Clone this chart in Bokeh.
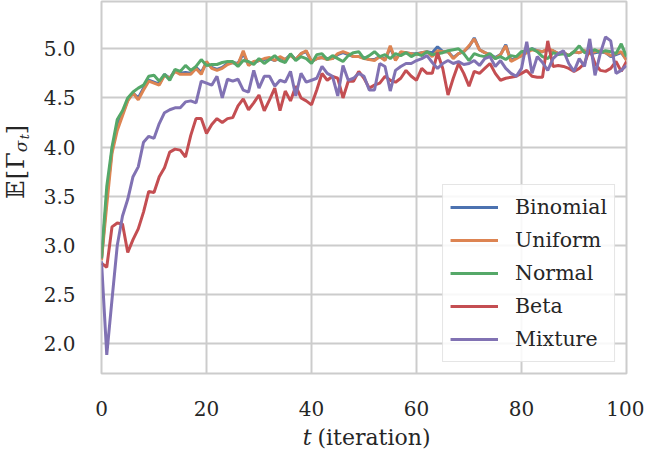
import math
from bokeh.plotting import figure
from bokeh.layouts import row, column
from bokeh.models import Legend, LegendItem, Range1d, FixedTicker, CustomJSTickFormatter
from bokeh.core.properties import value
from bokeh.embed import file_html
from bokeh.resources import INLINE

t = list(range(101))

binomial = [2.86, 3.50, 3.97, 4.22, 4.34, 4.48, 4.55, 4.50, 4.60, 4.68,
            4.66, 4.64, 4.74, 4.70, 4.78, 4.75, 4.76, 4.75, 4.81, 4.76,
            4.86, 4.81, 4.79, 4.81, 4.85, 4.86, 4.85, 4.95, 4.84, 4.86,
            4.88, 4.89, 4.90, 4.88, 4.91, 4.89, 4.94, 4.89, 4.95, 4.97,
            4.87, 4.90, 4.91, 4.90, 4.90, 4.94, 4.96, 4.94, 4.92, 4.92,
            4.91, 4.89, 4.89, 4.92, 4.89, 5.01, 4.89, 4.96, 4.96, 4.95,
            4.95, 4.96, 4.97, 4.96, 5.02, 4.97, 4.97, 4.91, 4.95, 4.97,
            5.02, 5.11, 4.99, 4.96, 4.94, 4.91, 4.94, 5.04, 4.88, 4.91,
            4.93, 4.97, 5.00, 4.98, 4.97, 4.99, 4.98, 4.95, 4.96, 4.93,
            4.97, 4.96, 4.98, 4.95, 4.96, 4.97, 4.96, 4.92, 4.94, 4.96,
            4.89]

uniform = [2.85, 3.41, 3.94, 4.17, 4.32, 4.47, 4.55, 4.48, 4.58, 4.67,
           4.65, 4.63, 4.73, 4.70, 4.77, 4.74, 4.74, 4.74, 4.80, 4.74,
           4.87, 4.80, 4.78, 4.80, 4.84, 4.86, 4.84, 4.98, 4.83, 4.87,
           4.88, 4.90, 4.91, 4.88, 4.92, 4.89, 4.93, 4.89, 4.95, 4.98,
           4.87, 4.90, 4.91, 4.89, 4.90, 4.95, 4.97, 4.95, 4.92, 4.92,
           4.90, 4.89, 4.88, 4.92, 4.88, 5.03, 4.88, 4.97, 4.96, 4.95,
           4.94, 4.96, 4.97, 4.92, 4.98, 4.97, 4.97, 4.90, 4.95, 4.97,
           5.03, 5.10, 4.99, 4.96, 4.94, 4.90, 4.94, 5.03, 4.87, 4.90,
           4.93, 4.96, 4.99, 4.98, 4.97, 5.00, 4.98, 4.95, 4.96, 4.93,
           4.97, 4.96, 4.98, 4.95, 4.97, 4.98, 4.96, 4.93, 4.95, 4.97,
           4.88]

normal = [2.87, 3.60, 4.00, 4.28, 4.37, 4.50, 4.56, 4.60, 4.63, 4.72,
          4.73, 4.67, 4.74, 4.68, 4.79, 4.77, 4.83, 4.78, 4.82, 4.89,
          4.83, 4.84, 4.84, 4.86, 4.87, 4.87, 4.82, 4.88, 4.87, 4.84,
          4.90, 4.85, 4.89, 4.93, 4.88, 4.86, 4.95, 4.88, 4.92, 4.90,
          4.85, 4.94, 4.95, 4.89, 4.93, 4.90, 4.87, 4.93, 4.96, 4.97,
          4.90, 4.93, 4.97, 4.92, 4.94, 4.90, 4.95, 4.93, 4.96, 4.92,
          4.95, 4.93, 4.97, 4.94, 4.95, 4.96, 4.98, 4.99, 5.00, 4.95,
          4.88, 4.95, 4.93, 4.92, 4.95, 4.90, 4.92, 4.89, 4.93, 4.92,
          4.97, 4.98, 5.00, 4.97, 4.92, 4.90, 4.96, 4.94, 4.95, 4.93,
          4.97, 5.03, 4.96, 4.97, 4.99, 4.96, 4.98, 4.97, 4.95, 5.05,
          4.92]

beta = [2.82, 2.78, 3.19, 3.23, 3.22, 2.93, 3.06, 3.17, 3.34, 3.55,
        3.54, 3.70, 3.79, 3.95, 3.98, 3.97, 3.90, 4.12, 4.29, 4.29,
        4.14, 4.23, 4.29, 4.25, 4.29, 4.30, 4.42, 4.49, 4.38, 4.45,
        4.53, 4.37, 4.48, 4.60, 4.37, 4.57, 4.47, 4.62, 4.50, 4.47,
        4.43, 4.58, 4.75, 4.68, 4.72, 4.70, 4.50, 4.67, 4.67, 4.77,
        4.70, 4.60, 4.63, 4.65, 4.72, 4.68, 4.66, 4.70, 4.78, 4.72,
        4.68, 4.80, 4.75, 4.75, 4.96, 4.80, 4.53, 4.70, 4.85, 4.75,
        4.62, 4.77, 4.75, 4.80, 4.85, 4.75, 4.68, 4.70, 4.71, 4.72,
        4.75, 4.78, 4.72, 4.71, 4.71, 5.08, 4.82, 4.83, 4.82, 4.80,
        4.77, 4.80, 4.85, 5.00, 4.85, 4.78, 4.77, 4.80, 4.87, 4.77,
        4.87]

mixture = [2.84, 1.89, 2.45, 3.00, 3.30, 3.47, 3.70, 3.80, 4.05, 4.11,
           4.09, 4.24, 4.35, 4.38, 4.40, 4.40, 4.46, 4.47, 4.45, 4.67,
           4.65, 4.63, 4.72, 4.50, 4.69, 4.67, 4.69, 4.58, 4.56, 4.78,
           4.60, 4.72, 4.72, 4.62, 4.68, 4.66, 4.77, 4.52, 4.75, 4.66,
           4.68, 4.70, 4.82, 4.75, 4.72, 4.52, 4.83, 4.68, 4.70, 4.75,
           4.72, 4.58, 4.58, 4.85, 4.82, 4.57, 4.78, 4.82, 4.85, 4.85,
           4.88, 4.90, 4.93, 4.86, 4.80, 4.85, 4.88, 4.85, 4.87, 4.84,
           4.85, 4.88, 4.83, 4.90, 4.92, 4.82, 4.88, 4.80, 4.75, 4.72,
           4.80, 5.07, 4.75, 4.92, 4.86, 4.78, 4.90, 4.95, 4.98, 4.85,
           4.77, 4.90, 4.82, 5.10, 4.73, 4.95, 5.12, 5.08, 4.75, 4.78,
           4.83]

series_names = ["Binomial", "Uniform", "Normal", "Beta", "Mixture"]
series_values = [binomial, uniform, normal, beta, mixture]
colors = ["#4C72B0", "#DD8452", "#55A868", "#C44E52", "#8172B3"]

x_ticks = [0, 20, 40, 60, 80, 100]
y_ticks = [2.0, 2.5, 3.0, 3.5, 4.0, 4.5, 5.0]

FONT = "DejaVu Serif"
TXT = "#262626"
GRID = "#cccccc"

W_YLAB = 40
H_XLAB = 30
W = 644
H = 451

# ---------------- main plot ----------------
p = figure(width=W - W_YLAB, height=H - H_XLAB, output_backend="svg", toolbar_location=None,
           x_range=Range1d(0, 100), y_range=Range1d(1.70, 5.48),
           min_border_left=92 - W_YLAB, min_border_right=18, min_border_top=1,
           min_border_bottom=78 - H_XLAB)

p.background_fill_color = "white"
p.border_fill_color = "white"
p.outline_line_color = GRID
p.outline_line_width = 2

for ax in (p.xaxis[0], p.yaxis[0]):
    ax.axis_line_color = None
    ax.major_tick_line_color = None
    ax.minor_tick_line_color = None
    ax.major_label_text_font = FONT
    ax.major_label_text_font_size = "20px"
    ax.major_label_text_color = TXT

p.xaxis[0].ticker = FixedTicker(ticks=x_ticks)
p.yaxis[0].ticker = FixedTicker(ticks=y_ticks)
p.yaxis[0].formatter = CustomJSTickFormatter(code="return tick.toFixed(1);")
p.xaxis[0].major_label_standoff = 21
p.yaxis[0].major_label_standoff = 20

p.xgrid[0].ticker = FixedTicker(ticks=x_ticks)
p.ygrid[0].ticker = FixedTicker(ticks=y_ticks)
for g in (p.xgrid[0], p.ygrid[0]):
    g.grid_line_color = GRID
    g.grid_line_width = 2

items = []
for name, ys, c in zip(series_names, series_values, colors):
    r = p.line(t, ys, line_color=c, line_width=3)
    items.append(LegendItem(label=name, renderers=[r]))

legend = Legend(items=items, location="bottom_right")
legend.margin = 11
legend.padding = 7
legend.spacing = 3
legend.glyph_width = 48
legend.glyph_height = 30
legend.label_standoff = 17
legend.label_height = 30
legend.label_text_font = FONT
legend.label_text_font_size = "20.5px"
legend.label_text_color = TXT
legend.label_text_baseline = "middle"
legend.border_line_color = GRID
legend.border_line_width = 1.5
legend.background_fill_color = "white"
legend.background_fill_alpha = 0.85
p.add_layout(legend)


def blank(width, height):
    f = figure(width=width, height=height, output_backend="svg", toolbar_location=None,
               x_range=Range1d(0, width), y_range=Range1d(0, height),
               x_axis_location=None, y_axis_location=None,
               min_border_left=0, min_border_right=0, min_border_top=0, min_border_bottom=0)
    f.outline_line_color = None
    f.grid.visible = False
    f.background_fill_color = "white"
    f.border_fill_color = "white"
    return f


# ---------------- y-axis label: E[Gamma_{sigma_t}], built glyph by glyph ----------------
ylab = blank(W_YLAB, H - H_XLAB)
ang = math.pi / 2
# (text, x, y, size, style) -- positions in this label panel's pixel space
ylabel_parts = [
    ("𝔼", 15, 208, "24px", "normal"),
    ("[", 15, 225, "24px", "normal"),
    ("Γ", 15, 241, "24px", "normal"),
    ("σ", 20, 257, "17px", "italic"),
    ("t", 24, 268, "13px", "italic"),
    ("]", 15, 276, "24px", "normal"),
]
for txt, px, py, sz, st in ylabel_parts:
    ylab.text(x=[px], y=[py], text=[txt], angle=ang, text_font=value(FONT),
              text_font_size=sz, text_font_style=st, text_color=TXT,
              text_align="center", text_baseline="middle")

# ---------------- x-axis label: t (iteration) ----------------
xlab = blank(W, H_XLAB)
xy = 14
xlab.text(x=[311], y=[xy], text=["t"], text_font=value(FONT), text_font_size="22px",
          text_font_style="italic", text_color=TXT, text_align="right",
          text_baseline="middle")
xlab.text(x=[317], y=[xy], text=["(iteration)"], text_font=value(FONT),
          text_font_size="22px", text_color=TXT, text_align="left",
          text_baseline="middle")

layout = column(row(ylab, p, spacing=0), xlab, spacing=0)

open("out.html", "w").write(file_html(layout, INLINE))
